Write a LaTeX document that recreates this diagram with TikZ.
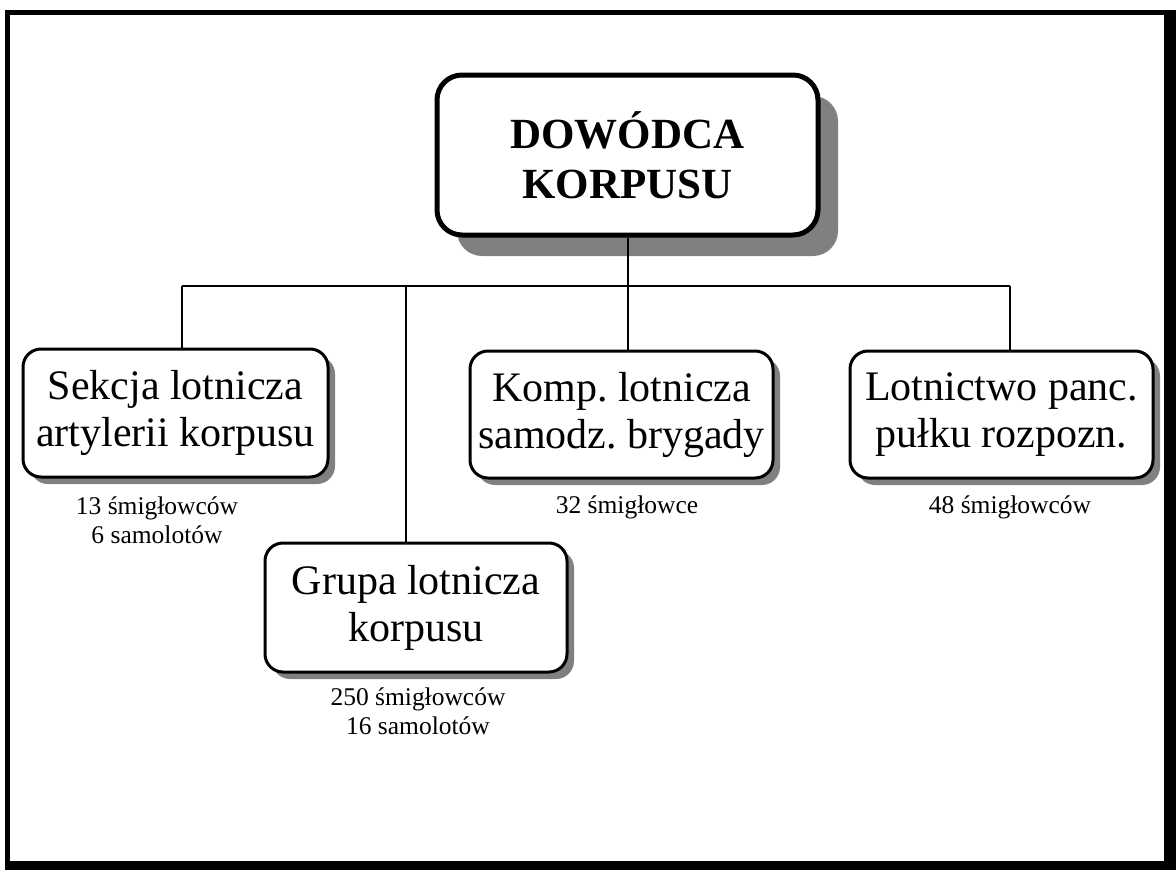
\documentclass[tikz,border=0pt]{standalone}
\usepackage{fontspec}
\setmainfont{Liberation Serif}
\usetikzlibrary{shadows}
\frenchspacing
\begin{document}
\begin{tikzpicture}[x=1pt,y=-1pt,
  unitbox/.style={draw=black, line width=3pt, rounded corners=18pt, fill=white,
    minimum width=303pt, minimum height=127pt, inner sep=0pt, align=center,
    font=\fontsize{42}{47}\selectfont,
    drop shadow={shadow xshift=7pt, shadow yshift=-7pt, fill=black!50, opacity=1}},
  headbox/.style={draw=black, line width=5pt, rounded corners=25pt, fill=white,
    minimum width=381pt, minimum height=160pt, inner sep=0pt, align=center,
    font=\fontsize{43}{50}\selectfont\bfseries,
    drop shadow={shadow xshift=20pt, shadow yshift=-21pt, fill=black!50, opacity=1}},
  note/.style={align=center, inner sep=0pt, font=\fontsize{25.5}{29}\selectfont},
  link/.style={draw=black, line width=2pt}]
\useasboundingbox (0,0) rectangle (1176,870);
% frame
\fill[black] (5,10) rectangle (1176,870);
\fill[white] (10,15) rectangle (1164,861);
% nodes
\node[headbox] (top) at (627.5,155) {DOWÓDCA\\KORPUSU};
\node[unitbox, minimum width=305pt, minimum height=128pt] (b1) at (175.5,413) {Sekcja lotnicza\\artylerii korpusu};
\node[unitbox, minimum width=302pt, minimum height=129pt] (b2) at (416,607.5) {Grupa lotnicza\\korpusu};
\node[unitbox] (b3) at (621.5,414.5) {Komp. lotnicza\\samodz. brygady};
\node[unitbox] (b4) at (1001.5,414.5) {Lotnictwo panc.\\pułku rozpozn.};
% notes
\node[note, anchor=base] (n1) at (157,543) {13 śmigłowców\\6 samolotów};
\node[note, anchor=base] (n2) at (418,734) {250 śmigłowców\\16 samolotów};
\node[note, anchor=base] (n3) at (627,513) {32 śmigłowce};
\node[note, anchor=base] (n4) at (1010,513) {48 śmigłowców};
% connectors
\coordinate (j1) at (182,286);
\coordinate (j2) at (406,286);
\coordinate (j4) at (1010,286);
\draw[link] (top.south) -- (top.south |- b3.north);
\draw[link] (j1) -- (j4);
\draw[link] (j1) -- (j1 |- b1.north);
\draw[link] (j2) -- (j2 |- b2.north);
\draw[link] (j4) -- (j4 |- b4.north);
\end{tikzpicture}
\end{document}
